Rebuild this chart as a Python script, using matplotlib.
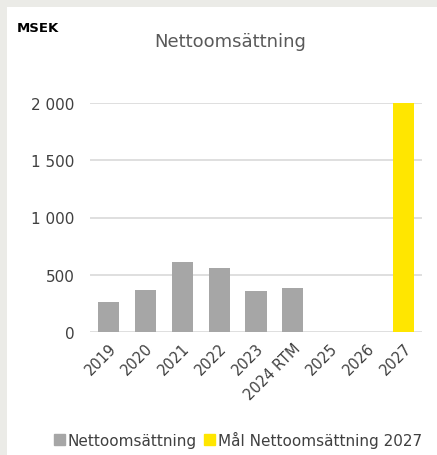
import matplotlib.pyplot as plt
from matplotlib.patches import Rectangle, Patch

categories = ["2019", "2020", "2021", "2022", "2023", "2024 RTM", "2025", "2026", "2027"]
nettoomsattning = [265, 367, 609, 562, 358, 382, 0, 0, 0]
mal_2027 = [0, 0, 0, 0, 0, 0, 0, 0, 2000]
yticks = [0, 500, 1000, 1500, 2000]
ytick_labels = ["0", "500", "1 000", "1 500", "2 000"]

GRAY = "#a6a6a6"
YELLOW = "#ffe600"
TEXT = "#404040"

plt.rcParams['font.family'] = ['DejaVu Sans']

fig = plt.figure(figsize=(4.37, 4.56), dpi=100, facecolor="#ebebe7")
fig.patches.append(Rectangle((7 / 437, 0), 1, 1 - 8 / 456, transform=fig.transFigure,
                             facecolor="white", edgecolor="none", zorder=-1))

ax = fig.add_axes([90 / 437, 1 - 333 / 456, 332 / 437, 229 / 456])
ax.set_facecolor("none")
x = range(len(categories))
ax.bar(x, nettoomsattning, width=0.57, color=GRAY, zorder=3)
ax.bar(x, mal_2027, width=0.57, color=YELLOW, zorder=3)

ax.set_xlim(-0.5, len(categories) - 0.5)
ax.set_ylim(0, 2000)
ax.set_yticks(yticks)
ax.set_yticklabels(ytick_labels, fontsize=11, color=TEXT)
ax.set_xticks(list(x))
ax.set_xticklabels(categories, rotation=45, ha="right", rotation_mode="anchor",
                   fontsize=10.5, color=TEXT)
ax.tick_params(length=0)
ax.tick_params(axis="y", pad=11)
ax.tick_params(axis="x", pad=6)
ax.grid(axis="y", color="#d9d9d9", linewidth=1.2, zorder=0)
ax.set_axisbelow(True)
for s in ax.spines.values():
    s.set_visible(False)

fig.text(17 / 437, 1 - 28 / 456, "MSEK", fontsize=9.5, fontweight="bold", color="black",
         va="center", ha="left")
fig.text(230 / 437, 1 - 42 / 456, "Nettoomsättning", fontsize=13, color="#595959",
         va="center", ha="center")

handles = [Patch(color=GRAY, label="Nettoomsättning"),
           Patch(color=YELLOW, label="Mål Nettoomsättning 2027")]
fig.legend(handles=handles, loc="center", bbox_to_anchor=(238 / 437, 1 - 440 / 456),
           ncol=2, frameon=False, fontsize=11, handlelength=0.7, handleheight=0.7,
           handletextpad=0.2, columnspacing=0.5, labelcolor=TEXT)

fig.savefig("out.png", dpi=100, facecolor=fig.get_facecolor())
